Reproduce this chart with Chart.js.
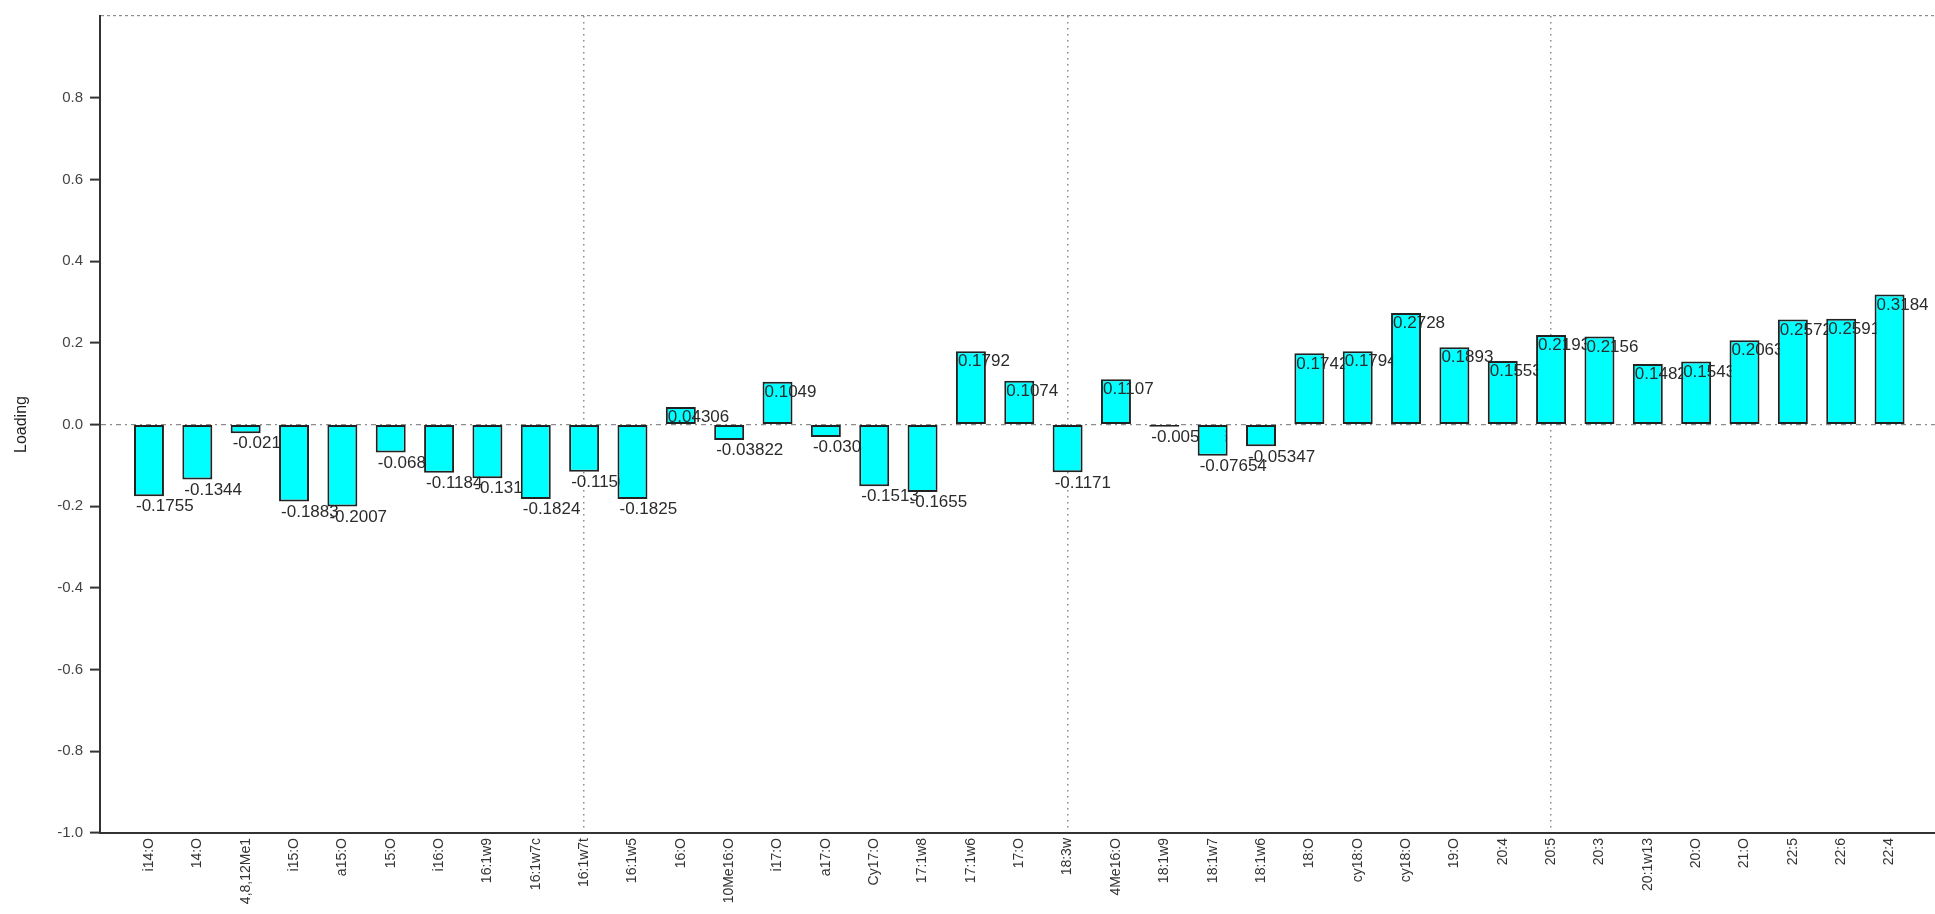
<!DOCTYPE html>
<html>
<head>
<meta charset="utf-8">
<title>Loading</title>
<script src="https://cdn.jsdelivr.net/npm/chart.js@4.4.1/dist/chart.umd.min.js"></script>
<style>
  html, body { margin: 0; padding: 0; background: #fff; }
  canvas { display: block; }
</style>
</head>
<body>
<canvas id="loadingChart" width="1935" height="914"></canvas>
<script>
// Fatty acid names along the x axis
const categories = [
  'i14:O', '14:O', '4,8,12Me1', 'i15:O', 'a15:O', '15:O', 'i16:O', '16:1w9',
  '16:1w7c', '16:1w7t', '16:1w5', '16:O', '10Me16:O', 'i17:O', 'a17:O', 'Cy17:O',
  '17:1w8', '17:1w6', '17:O', '18:3w', '4Me16:O', '18:1w9', '18:1w7', '18:1w6',
  '18:O', 'cy18:O', 'cy18:O', '19:O', '20:4', '20:5', '20:3', '20:1w13',
  '20:O', '21:O', '22:5', '22:6', '22:4'
];

// Loading of each fatty acid
const loadings = [
  -0.1755, -0.1344, -0.02134, -0.1883, -0.2007, -0.06845, -0.1184, -0.1313,
  -0.1824, -0.1156, -0.1825, 0.04306, -0.03822, 0.1049, -0.03047, -0.1513,
  -0.1655, 0.1792, 0.1074, -0.1171, 0.1107, -0.005216, -0.07654, -0.05347,
  0.1742, 0.1794, 0.2728, 0.1893, 0.1553, 0.2193, 0.2156, 0.1482,
  0.1543, 0.2063, 0.2572, 0.2591, 0.3184
];

// y ticks; the top one (1.0) only carries the dotted frame line
const yTicks = [-1.0, -0.8, -0.6, -0.4, -0.2, 0.0, 0.2, 0.4, 0.6, 0.8, 1.0];

// categories that get a vertical dotted guide
const guideIndexes = [9, 19, 29];

const DOTTED = '#8c8c8c';
const FONT = '"Liberation Sans", Arial, sans-serif';

// draws bars one by one, each followed by its value, so the next bar
// paints over the tail of a long label
const valueLabels = {
  id: 'valueLabels',
  beforeDatasetDraw() { return false; },
  afterDatasetsDraw(chart) {
    const ctx = chart.ctx;
    const meta = chart.getDatasetMeta(0);
    ctx.save();
    ctx.font = '17px ' + FONT;
    ctx.fillStyle = '#2b2b2b';
    ctx.textAlign = 'left';
    ctx.textBaseline = 'top';
    meta.data.forEach((bar, i) => {
      bar.draw(ctx);
      const { x, y, width } = bar.getProps(['x', 'y', 'width'], true);
      ctx.fillText(String(loadings[i]), x - width / 2 + 2, y + 2);
    });
    ctx.restore();
  }
};

new Chart(document.getElementById('loadingChart'), {
  type: 'bar',
  data: {
    datasets: [{
      data: loadings.map((v, i) => ({ x: i, y: v })),
      backgroundColor: '#00ffff',
      borderColor: '#222222',
      borderWidth: 2,
      borderSkipped: false,
      categoryPercentage: 1,
      barPercentage: 0.62,
    }],
  },
  options: {
    responsive: false,
    animation: false,
    devicePixelRatio: 1,
    layout: { padding: { top: 14, right: 0, bottom: 0, left: 0 } },
    plugins: {
      legend: { display: false },
      tooltip: { enabled: false },
    },
    scales: {
      x: {
        type: 'linear',
        min: -1.013,
        max: 36.94,
        offset: false,
        afterBuildTicks: (s) => { s.ticks = categories.map((_, i) => ({ value: i })); },
        afterFit: (s) => { s.height = 81; },
        ticks: {
          autoSkip: false,
          maxRotation: 90,
          minRotation: 90,
          padding: 5,
          color: '#333',
          font: { family: FONT, size: 14 },
          callback: (v) => categories[v] ?? '',
        },
        grid: {
          offset: false,
          drawTicks: false,
          lineWidth: 1.5,
          color: (c) => (c.tick && guideIndexes.includes(c.tick.value) ? DOTTED : 'transparent'),
        },
        border: { display: true, color: '#333', width: 2, dash: [1.5, 4.5] },
      },
      y: {
        min: -1,
        max: 1,
        afterBuildTicks: (s) => { s.ticks = yTicks.map((v) => ({ value: v })); },
        afterFit: (s) => { s.width = 100; },
        title: {
          display: true,
          text: 'Loading',
          color: '#222',
          padding: { top: 12, bottom: 0 },
          font: { family: FONT, size: 16 },
        },
        ticks: {
          padding: 7,
          color: '#444',
          font: { family: FONT, size: 15 },
          callback: (v) => (v >= 0.999 ? '' : v.toFixed(1)),
        },
        grid: {
          lineWidth: 1.2,
          tickLength: 10,
          tickBorderDash: [],
          tickWidth: 2,
          tickColor: (c) => (c.tick && c.tick.value >= 0.999 ? 'transparent' : '#333'),
          color: (c) => (c.tick && (Math.abs(c.tick.value) < 1e-9 || c.tick.value >= 0.999) ? DOTTED : 'transparent'),
        },
        border: {
          display: true,
          color: '#333',
          width: 2,
          dash: (c) => (c.tick && Math.abs(c.tick.value) < 1e-9 ? [5, 4, 2, 4] : [3, 3]),
        },
      },
    },
  },
  plugins: [valueLabels],
});
</script>
</body>
</html>
